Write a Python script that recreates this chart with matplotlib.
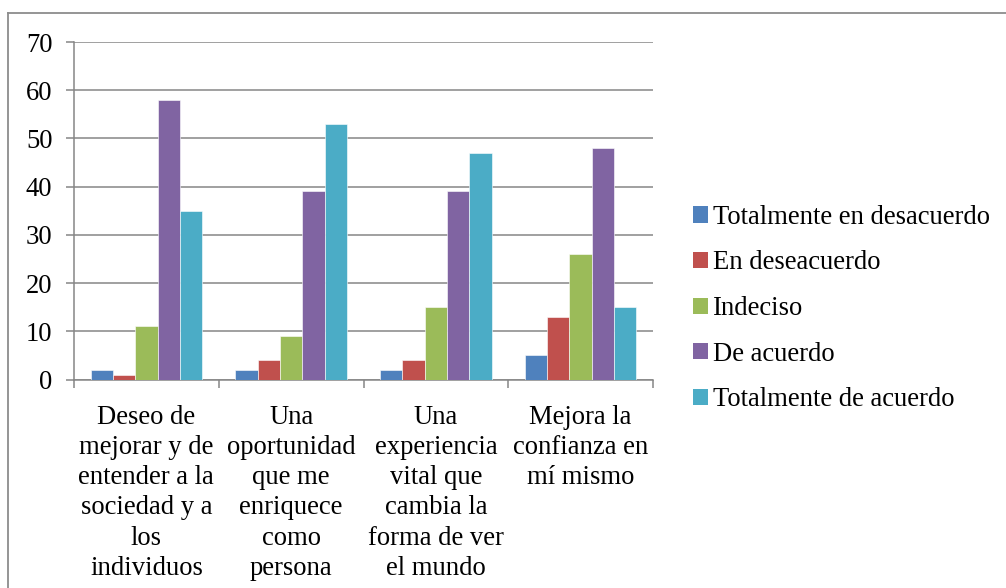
import matplotlib
matplotlib.use("Agg")
import matplotlib.pyplot as plt
from matplotlib.patches import Patch
from matplotlib.lines import Line2D
import numpy as np

categories = [
    "Deseo de\nmejorar y de\nentender a la\nsociedad y a\nlos\nindividuos",
    "Una\noportunidad\nque me\nenriquece\ncomo\npersona",
    "Una\nexperiencia\nvital que\ncambia la\nforma de ver\nel mundo",
    "Mejora la\nconfianza en\nmí mismo",
]
series_names = ["Totalmente en desacuerdo", "En deseacuerdo", "Indeciso",
                "De acuerdo", "Totalmente de acuerdo"]
totalmente_desacuerdo = [2, 2, 2, 5]
en_desacuerdo = [1, 4, 4, 13]
indeciso = [11, 9, 15, 26]
de_acuerdo = [58, 39, 39, 48]
totalmente_acuerdo = [35, 53, 47, 15]
y_ticks = [0, 10, 20, 30, 40, 50, 60, 70]

colors = ["#4F81BD", "#C0504D", "#9BBB59", "#8064A2", "#4BACC6"]
series = [totalmente_desacuerdo, en_desacuerdo, indeciso, de_acuerdo, totalmente_acuerdo]

plt.rcParams['font.family'] = ['Liberation Serif', 'DejaVu Serif']
FS = 19.2
W, H = 1006, 588
fig = plt.figure(figsize=(W / 100, H / 100), dpi=100)
ax = fig.add_axes([74 / W, 1 - 379.5 / H, (653 - 74) / W, (379.5 - 42) / H])

grid_c = "#868686"
x = np.arange(len(categories))
w = 1 / 6.5
for i, (vals, c) in enumerate(zip(series, colors)):
    ax.bar(x + (i - 2) * w, vals, width=w, color=c, edgecolor="white",
           linewidth=0.4, zorder=3, label=series_names[i])

ax.set_xlim(-0.5, len(categories) - 0.5)
ax.set_ylim(0, 70)
ax.set_yticks(y_ticks)
ax.set_yticklabels([str(v) for v in y_ticks], fontsize=FS, family='Liberation Serif')
ax.yaxis.grid(True, color=grid_c, linewidth=1.1, zorder=0)
ax.set_axisbelow(True)
ax.tick_params(axis='y', length=5.5, width=1.1, color=grid_c, pad=10, labelcolor="black")
ax.set_xticks(x)
ax.set_xticklabels(categories, fontsize=FS, linespacing=1.28, family='Liberation Serif')
ax.tick_params(axis='x', which='major', length=0, pad=18)
ax.set_xticks(np.arange(-0.5, len(categories), 1.0), minor=True)
ax.tick_params(axis='x', which='minor', length=5.5, width=1.1, color=grid_c)
for s in ["top", "right"]:
    ax.spines[s].set_visible(False)
for s in ["left", "bottom"]:
    ax.spines[s].set_color(grid_c)
    ax.spines[s].set_linewidth(1.1)

handles = [Patch(facecolor=c, edgecolor="none") for c in colors]
fig.legend(handles, series_names, loc="center left",
           bbox_to_anchor=(693 / W, 1 - 308.5 / H), frameon=False,
           prop={'family': 'Liberation Serif', 'size': FS},
           handlelength=0.55, handleheight=0.55, handletextpad=0.2,
           labelspacing=0.77, borderpad=0, borderaxespad=0)

# chart border (top and left visible)
fig.add_artist(Line2D([7.5 / W, 7.5 / W], [0, 1 - 12.7 / H], transform=fig.transFigure,
                      color="#8C8C8C", linewidth=1.3))
fig.add_artist(Line2D([7.5 / W, 1], [1 - 12.7 / H, 1 - 12.7 / H], transform=fig.transFigure,
                      color="#8C8C8C", linewidth=1.3))

fig.savefig("out.png", dpi=100)
